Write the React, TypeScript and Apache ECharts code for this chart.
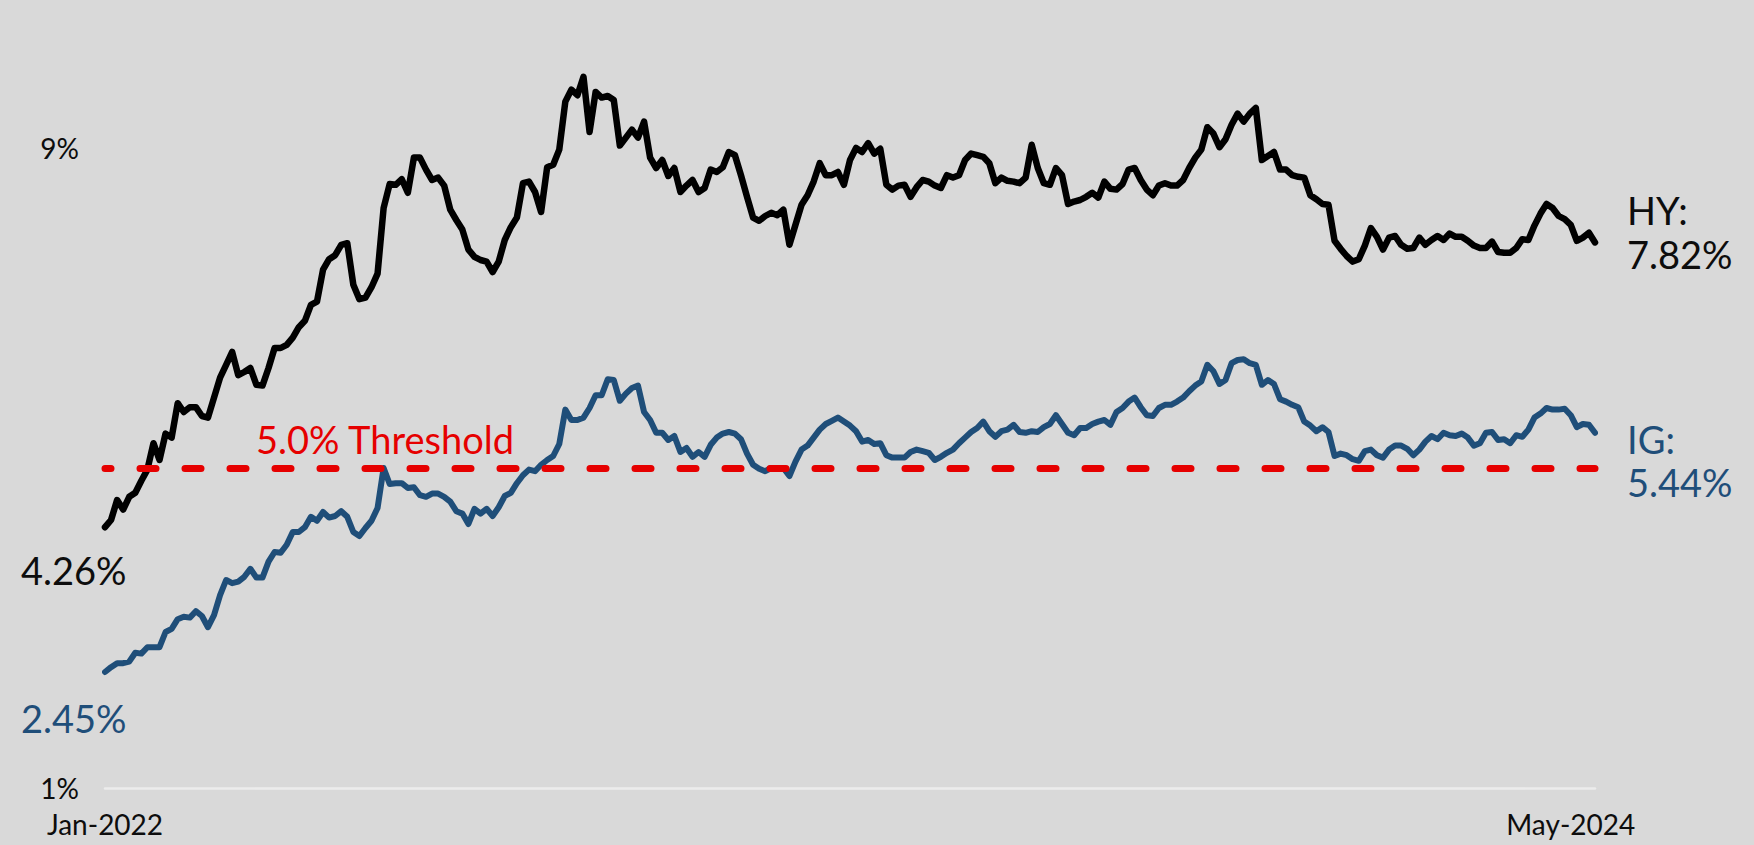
import React, { useEffect, useRef } from "react";
import * as echarts from "echarts";

// High Yield index yield (%), twice-weekly observations (Fri / Tue), Jan-2022 .. May-2024
const HY: number[] = [
  4.26, 4.35, 4.60, 4.48, 4.64, 4.69, 4.84, 4.98, 5.31, 5.10,
  5.43, 5.38, 5.81, 5.70, 5.76, 5.76, 5.65, 5.63, 5.88, 6.13,
  6.29, 6.45, 6.16, 6.20, 6.25, 6.04, 6.03, 6.25, 6.50, 6.50,
  6.54, 6.63, 6.76, 6.84, 7.04, 7.08, 7.48, 7.61, 7.66, 7.79,
  7.81, 7.29, 7.11, 7.13, 7.26, 7.43, 8.25, 8.55, 8.54, 8.61,
  8.44, 8.88, 8.88, 8.73, 8.60, 8.63, 8.53, 8.23, 8.10, 7.98,
  7.73, 7.64, 7.60, 7.58, 7.45, 7.58, 7.85, 8.01, 8.13, 8.56,
  8.58, 8.45, 8.20, 8.76, 8.79, 8.98, 9.58, 9.73, 9.66, 9.89,
  9.20, 9.70, 9.63, 9.65, 9.60, 9.03, 9.13, 9.23, 9.13, 9.33,
  8.88, 8.75, 8.85, 8.65, 8.75, 8.45, 8.53, 8.60, 8.45, 8.50,
  8.73, 8.70, 8.76, 8.95, 8.91, 8.66, 8.39, 8.13, 8.09, 8.15,
  8.19, 8.16, 8.23, 7.79, 8.04, 8.29, 8.41, 8.58, 8.81, 8.66,
  8.66, 8.70, 8.54, 8.85, 9.00, 8.95, 9.06, 8.93, 8.99, 8.54,
  8.48, 8.53, 8.54, 8.39, 8.51, 8.60, 8.58, 8.53, 8.50, 8.66,
  8.63, 8.66, 8.85, 8.93, 8.91, 8.89, 8.81, 8.56, 8.63, 8.59,
  8.58, 8.56, 8.63, 9.04, 8.75, 8.56, 8.54, 8.75, 8.66, 8.30,
  8.33, 8.35, 8.39, 8.44, 8.38, 8.58, 8.49, 8.48, 8.55, 8.73,
  8.75, 8.60, 8.48, 8.41, 8.53, 8.56, 8.53, 8.53, 8.60, 8.75,
  8.88, 8.98, 9.26, 9.18, 9.01, 9.11, 9.29, 9.43, 9.33, 9.43,
  9.50, 8.85, 8.90, 8.95, 8.73, 8.73, 8.66, 8.64, 8.63, 8.41,
  8.36, 8.30, 8.29, 7.84, 7.74, 7.65, 7.58, 7.61, 7.78, 8.00,
  7.89, 7.73, 7.88, 7.90, 7.79, 7.74, 7.75, 7.88, 7.79, 7.85,
  7.90, 7.85, 7.93, 7.89, 7.89, 7.84, 7.78, 7.75, 7.75, 7.83,
  7.70, 7.69, 7.69, 7.75, 7.86, 7.85, 8.03, 8.18, 8.30, 8.25,
  8.15, 8.11, 8.04, 7.84, 7.88, 7.94, 7.82,
];

// Investment Grade index yield (%), same observation dates
const IG: number[] = [
  2.45, 2.51, 2.56, 2.56, 2.58, 2.69, 2.68, 2.76, 2.76, 2.76,
  2.95, 2.99, 3.11, 3.14, 3.13, 3.21, 3.15, 3.01, 3.16, 3.41,
  3.60, 3.56, 3.58, 3.64, 3.74, 3.63, 3.63, 3.83, 3.95, 3.94,
  4.04, 4.20, 4.20, 4.26, 4.39, 4.34, 4.45, 4.38, 4.40, 4.46,
  4.39, 4.20, 4.15, 4.25, 4.34, 4.50, 5.00, 4.80, 4.81, 4.81,
  4.75, 4.76, 4.66, 4.64, 4.68, 4.68, 4.64, 4.58, 4.46, 4.43,
  4.30, 4.49, 4.43, 4.49, 4.40, 4.51, 4.65, 4.69, 4.81, 4.91,
  4.98, 4.96, 5.04, 5.10, 5.15, 5.30, 5.73, 5.60, 5.60, 5.63,
  5.75, 5.91, 5.91, 6.11, 6.10, 5.84, 5.93, 6.00, 6.03, 5.70,
  5.60, 5.44, 5.44, 5.35, 5.40, 5.20, 5.25, 5.14, 5.20, 5.14,
  5.29, 5.38, 5.43, 5.45, 5.43, 5.36, 5.18, 5.04, 4.99, 4.96,
  5.00, 4.99, 5.00, 4.90, 5.08, 5.23, 5.28, 5.38, 5.48, 5.55,
  5.59, 5.63, 5.58, 5.53, 5.46, 5.33, 5.35, 5.30, 5.31, 5.16,
  5.13, 5.13, 5.13, 5.20, 5.23, 5.21, 5.19, 5.10, 5.14, 5.19,
  5.23, 5.31, 5.38, 5.45, 5.50, 5.58, 5.46, 5.39, 5.46, 5.48,
  5.54, 5.45, 5.44, 5.46, 5.45, 5.51, 5.55, 5.66, 5.55, 5.44,
  5.41, 5.50, 5.50, 5.55, 5.58, 5.60, 5.54, 5.70, 5.75, 5.83,
  5.88, 5.76, 5.66, 5.65, 5.75, 5.79, 5.79, 5.83, 5.88, 5.96,
  6.03, 6.08, 6.29, 6.21, 6.05, 6.10, 6.31, 6.35, 6.36, 6.31,
  6.29, 6.04, 6.10, 6.05, 5.86, 5.83, 5.79, 5.76, 5.58, 5.53,
  5.46, 5.51, 5.45, 5.15, 5.18, 5.16, 5.11, 5.09, 5.21, 5.23,
  5.16, 5.13, 5.23, 5.28, 5.28, 5.24, 5.16, 5.23, 5.33, 5.40,
  5.36, 5.44, 5.41, 5.40, 5.43, 5.38, 5.28, 5.31, 5.44, 5.45,
  5.35, 5.36, 5.31, 5.41, 5.39, 5.48, 5.63, 5.68, 5.75, 5.73,
  5.73, 5.74, 5.66, 5.51, 5.55, 5.54, 5.44,
];

// Observation dates: Fridays and the following Tuesdays, starting Fri 7 Jan 2022
const START_DATE = "2022-01-07";
const DATES: string[] = (() => {
  const base = Date.parse(START_DATE + "T00:00:00Z");
  const out: string[] = [];
  for (let j = 0; j < HY.length; j++) {
    const days = Math.floor(j / 2) * 7 + (j % 2 === 1 ? 4 : 0);
    out.push(new Date(base + days * 86400000).toISOString().slice(0, 10));
  }
  return out;
})();

const X_LABEL_DATES: string[] = ["2022-01-07", "2024-05-03"];
const Y_LABEL_VALUES: number[] = [1, 9];
const THRESHOLD = 5;
const MONTHS = ["Jan","Feb","Mar","Apr","May","Jun","Jul","Aug","Sep","Oct","Nov","Dec"];

const FONT = "Lato, 'Open Sans', sans-serif";
const BLACK = "#0d0d0d";
const BLUE = "#1F4E79";
const RED = "#E60000";

function fmtDate(d: string): string {
  const [y, m] = d.split("-");
  return MONTHS[parseInt(m, 10) - 1] + "-" + y;
}

export default function App() {
  const ref = useRef<HTMLDivElement>(null);

  useEffect(() => {
    if (!ref.current) return;
    const chart = echarts.init(ref.current, null, { renderer: "svg" });
    const txt = (text: string, x: number, y: number, color: string, size: number) => ({
      type: "text",
      x,
      y,
      silent: true,
      style: {
        text,
        fill: color,
        fontSize: size,
        fontFamily: FONT,
        align: "left",
        verticalAlign: "middle",
        textAlign: "left",
        textVerticalAlign: "middle",
      },
    });
    chart.setOption({
      animation: false,
      backgroundColor: "#d9d9d9",
      grid: { left: 105, right: 159, top: 68, bottom: 57, containLabel: false, outerBoundsMode: "none" },
      xAxis: {
        type: "category",
        data: DATES,
        boundaryGap: false,
        axisLine: { show: true, lineStyle: { color: "#ececec", width: 2.5 } },
        axisTick: { show: false },
        splitLine: { show: false },
        axisLabel: {
          interval: (_i: number, v: string) => X_LABEL_DATES.indexOf(v) >= 0,
          formatter: (v: string) => fmtDate(v),
          color: BLACK,
          fontSize: 28,
          fontFamily: FONT,
          margin: 22,
        },
      },
      yAxis: {
        type: "value",
        min: 1,
        max: 10,
        interval: 1,
        axisLine: { show: false },
        axisTick: { show: false },
        splitLine: { show: false },
        axisLabel: {
          formatter: (v: number) => (Y_LABEL_VALUES.indexOf(v) >= 0 ? v + "%" : ""),
          color: BLACK,
          fontSize: 28,
          fontFamily: FONT,
          margin: 26,
        },
      },
      series: [
        {
          name: "HY",
          type: "line",
          data: HY,
          symbol: "none",
          showSymbol: false,
          lineStyle: { color: "#000000", width: 6.5, join: "round", cap: "round" },
          itemStyle: { color: "#000000" },
          z: 2,
        },
        {
          name: "IG",
          type: "line",
          data: IG,
          symbol: "none",
          showSymbol: false,
          lineStyle: { color: BLUE, width: 6, join: "round", cap: "round" },
          itemStyle: { color: BLUE },
          z: 3,
          markLine: {
            silent: true,
            symbol: ["none", "none"],
            label: { show: false },
            lineStyle: { color: RED, width: 7, type: [16, 29], dashOffset: 9.5, cap: "round" },
            data: [{ yAxis: THRESHOLD }],
            z: 5,
          },
        },
      ],
      graphic: [
        txt("HY:", 1627, 210, BLACK, 38),
        txt(HY[HY.length - 1].toFixed(2) + "%", 1627, 254, BLACK, 38),
        txt("IG:", 1627, 439, BLUE, 38),
        txt(IG[IG.length - 1].toFixed(2) + "%", 1627, 482, BLUE, 38),
        txt(HY[0].toFixed(2) + "%", 21, 570, BLACK, 38),
        txt(IG[0].toFixed(2) + "%", 21, 718, BLUE, 38),
        txt(THRESHOLD.toFixed(1) + "% Threshold", 256, 439, RED, 38),
      ],
    });
    return () => chart.dispose();
  }, []);

  return (
    <div
      ref={ref}
      style={{ position: "fixed", left: 0, top: 0, width: 1754, height: 845, background: "#d9d9d9" }}
    />
  );
}
